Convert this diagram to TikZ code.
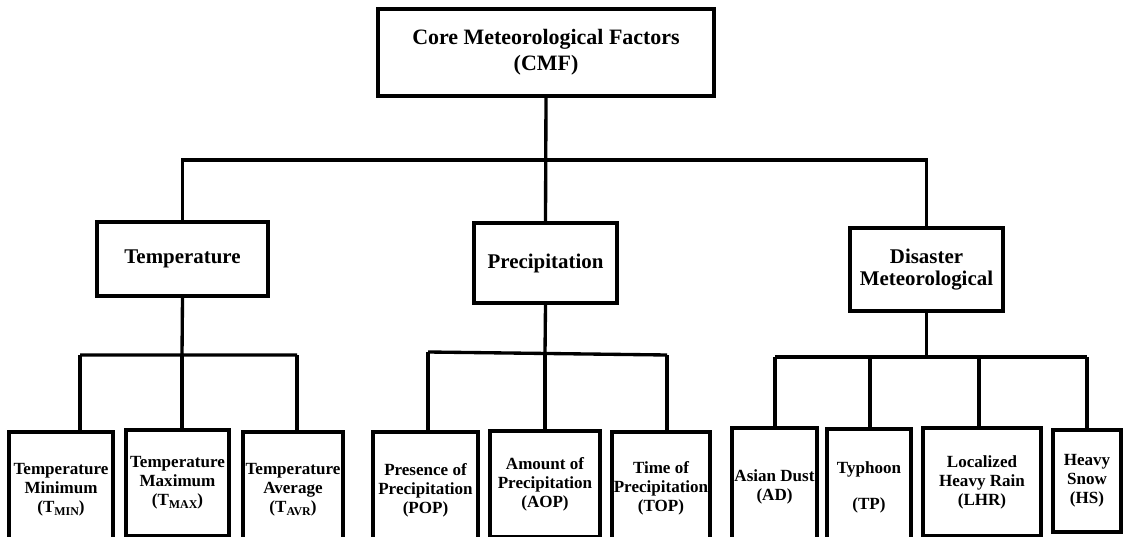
\documentclass[tikz,border=0pt]{standalone}
\usepackage{fontspec}
\setmainfont{Liberation Serif}
\newcommand\lowsub[1]{\raisebox{-0.35ex}{\fontsize{6.8}{6.8}\selectfont #1}}
\begin{document}
\begin{tikzpicture}[x=0.02cm, y=-0.02cm, line join=miter,
	box/.style 2 args={draw, line width=2.3pt, align=center, inner sep=0pt,
		minimum width=#1*0.02cm, minimum height=#2*0.02cm},
	leaf/.style 2 args={box={#1}{#2}, font=\fontsize{9.7}{10.8}\selectfont\bfseries},
	conn/.style={line width=1.9pt}]
	\useasboundingbox (0,0) rectangle (1126,537);
	\clip (0,0) rectangle (1126,537);
	\def\ytop{160} \def\ylow{355}
	% root and second level
	\node[box={336}{87}, font=\fontsize{12.5}{14.7}\selectfont\bfseries] (cmf) at (546,52.5) {Core Meteorological Factors\\(CMF)};
	\node[box={171}{74}, font=\fontsize{11.9}{13}\selectfont\bfseries] (temp) at (182.5,259) {Temperature};
	\node[box={143}{80}, font=\fontsize{11.9}{13}\selectfont\bfseries] (prec) at (545.5,263) {Precipitation};
	\node[box={153}{83}, font=\fontsize{11.9}{12.5}\selectfont\bfseries] (dis) at (926.5,269.5) {Disaster\\Meteorological};
	% leaves
	\node[leaf={104}{116}] (tmin) at (61,490) {Temperature\\Minimum\\(T\lowsub{MIN})};
	\node[leaf={103}{106}] (tmax) at (177.5,483) {Temperature\\Maximum\\(T\lowsub{MAX})};
	\node[leaf={100}{116}] (tavr) at (293,490) {Temperature\\Average\\(T\lowsub{AVR})};
	\node[leaf={105}{116}] (pop) at (425.5,490) {Presence of\\Precipitation\\(POP)};
	\node[leaf={110}{106}] (aop) at (545,484) {Amount of\\Precipitation\\(AOP)};
	\node[leaf={98}{112}] (top) at (661,488) {Time of\\Precipitation\\(TOP)};
	\node[leaf={85}{118}] (ad) at (774.5,487) {Asian Dust\\(AD)};
	\node[leaf={84}{117}] (tp) at (869,487.5) {Typhoon\\[2.2ex](TP)};
	\node[leaf={118}{108}] (lhr) at (982,482) {Localized\\Heavy Rain\\(LHR)};
	\node[leaf={68}{102}] (hs) at (1087,481) {Heavy\\Snow\\(HS)};
	% bus points
	\coordinate (tb) at (0,\ytop);
	\coordinate (t1) at (80,\ylow); \coordinate (t2) at (182,\ylow); \coordinate (t3) at (297,\ylow);
	\coordinate (p1) at (428,352); \coordinate (p2) at (545,353.5); \coordinate (p3) at (667,355);
	\coordinate (d1) at (775,357); \coordinate (d2) at (870,357); \coordinate (d3) at (979,357); \coordinate (d4) at (1087,357);
	% connectors
	\draw[conn] (cmf.south) -- (prec.north);
	\draw[conn] (temp.north) -- (temp.north |- tb) -- (dis.north |- tb) -- (dis.north);
	\draw[conn] (temp.south) -- (t2) (t1) -- (t3);
	\draw[conn] (prec.south) -- (p2) (p1) -- (p3);
	\draw[conn] (dis.south) -- (dis.south |- d1) (d1) -- (d4);
	\draw[conn] (t1) -- (t1 |- tmin.north) (t2) -- (t2 |- tmax.north) (t3) -- (t3 |- tavr.north);
	\draw[conn] (p1) -- (p1 |- pop.north) (p2) -- (p2 |- aop.north) (p3) -- (p3 |- top.north);
	\draw[conn] (d1) -- (d1 |- ad.north) (d2) -- (d2 |- tp.north) (d3) -- (d3 |- lhr.north) (d4) -- (d4 |- hs.north);
\end{tikzpicture}
\end{document}
